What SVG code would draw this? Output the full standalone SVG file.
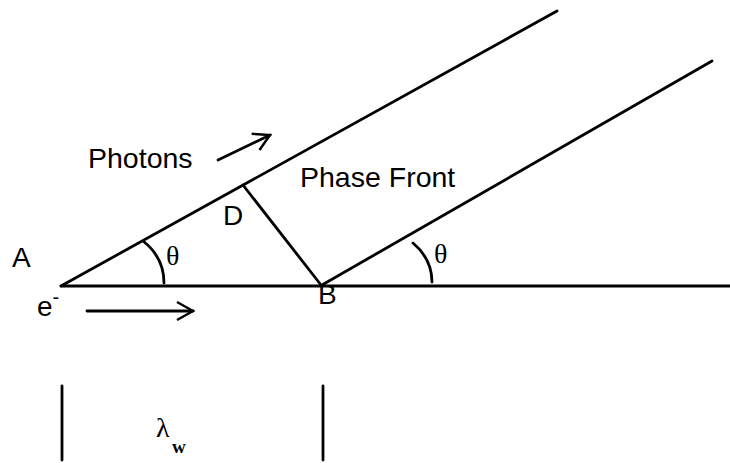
<svg xmlns="http://www.w3.org/2000/svg" width="730" height="463" viewBox="0 0 730 463">
<defs>
<marker id="open" markerUnits="userSpaceOnUse" markerWidth="30" markerHeight="30" refX="0" refY="0" viewBox="-20 -15 25 30" orient="auto" overflow="visible">
<path d="M-16,-9 L0,0 L-16,9" fill="none" stroke="#000" stroke-width="2.4"/>
</marker>
<style>
.ln{stroke:#000;stroke-width:2.8;fill:none;stroke-linecap:round}
.sans{font-family:"Liberation Sans",Arial,sans-serif;font-size:28px;fill:#000}
.serif{font-family:"Liberation Serif","Times New Roman",serif;fill:#000}
</style>
</defs>
<rect width="730" height="463" fill="#fff"/>
<g id="connectors">
<line class="ln" x1="61" y1="286" x2="730" y2="286"/>
<line class="ln" x1="61" y1="286" x2="557" y2="11"/>
<line class="ln" x1="322" y1="285" x2="712" y2="61"/>
<line class="ln" x1="243" y1="185" x2="321" y2="285"/>
<path class="ln" d="M143,241 C157,252 164,266 164,283"/>
<path class="ln" d="M413,243 C426,254 432,267 432,282"/>
<line class="ln" x1="218" y1="160" x2="270" y2="135" marker-end="url(#open)"/>
<line class="ln" x1="87" y1="311" x2="193" y2="311" marker-end="url(#open)"/>
<line class="ln" x1="62" y1="386" x2="62" y2="460"/>
<line class="ln" x1="323" y1="386" x2="323" y2="460"/>
</g>
<g id="labels">
<text class="sans" x="12" y="267">A</text>
<text class="sans" x="223" y="225">D</text>
<text class="sans" x="318" y="304">B</text>
<text class="sans" x="88" y="168" style="font-size:28.5px">Photons</text>
<text class="sans" x="300" y="187" style="font-size:28.5px">Phase Front</text>
<text class="sans" x="37" y="316">e<tspan style="font-size:20px" dy="-12">-</tspan></text>
<text class="serif" x="166" y="265" style="font-size:28px">θ</text>
<text class="serif" x="434" y="263" style="font-size:28px">θ</text>
<text class="serif" x="156" y="437" style="font-size:28px">λ</text>
<text class="serif" x="172" y="453" style="font-size:19px;font-weight:bold">w</text>
</g>
</svg>
